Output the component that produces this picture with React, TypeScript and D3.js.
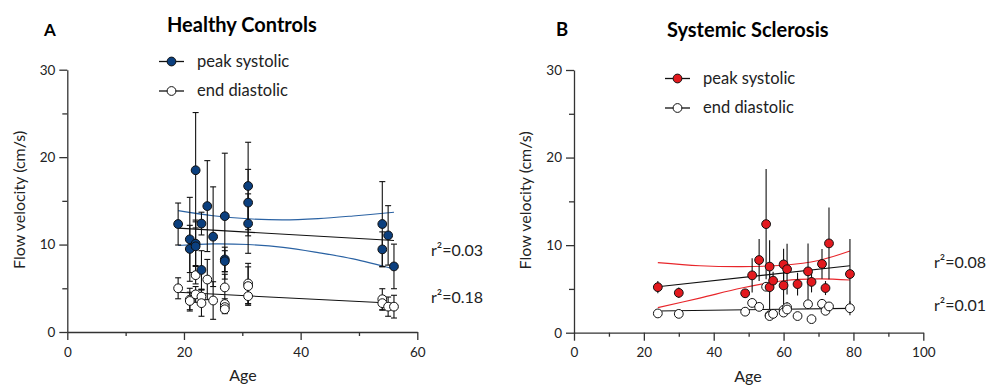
import React, { useEffect, useRef } from 'react';
import * as d3 from 'd3';

// Panel A – healthy controls
const hcSysAge = [19, 21, 21, 22, 22, 22, 23, 23, 24, 25, 27, 27, 27, 31, 31, 31, 54, 54, 55, 56];
const hcSys = [12.35, 10.6, 9.5, 18.5, 10.1, 9.8, 12.4, 7.1, 14.4, 10.9, 13.25, 8.3, 8.1, 16.7, 14.8, 12.4, 12.35, 9.45, 11.05, 7.5];
const hcSysSd = [2.4, 4.8, 2.7, 6.6, 2.5, 3.0, 1.3, 2.2, 5.2, 5.7, 7.2, 1.4, 1.2, 5.0, 3.8, 3.4, 4.85, 2.0, 3.4, 2.55];
const hcDiaAge = [19, 21, 21, 22, 22, 23, 23, 24, 25, 27, 27, 27, 27, 31, 31, 31, 54, 54, 55, 56];
const hcDia = [5.0, 3.7, 3.55, 6.5, 4.3, 4.05, 3.3, 6.0, 3.6, 5.1, 3.2, 2.85, 2.6, 5.55, 5.25, 4.1, 3.75, 3.3, 2.9, 2.9];
const hcDiaSd = [1.2, 1.3, 1.0, 1.0, 0.9, 0.8, 1.5, 2.3, 2.15, 1.5, 0.6, 0.6, 0.5, 2.3, 2.2, 0.9, 1.2, 0.8, 1.1, 1.3];
const hcFitAge = [19, 56];
const hcSysFit = [11.88, 10.47];
const hcDiaFit = [4.54, 3.28];
const hcBandAge = [19, 25, 31, 37, 43, 49, 56];
const hcBandHi = [13.88, 13.3, 12.95, 12.82, 12.97, 13.27, 13.69];
const hcBandLo = [9.9, 10.08, 10.0, 9.68, 9.08, 8.36, 7.2];
const hcR2 = ['r²=0.03', 'r²=0.18'];

// Panel B – systemic sclerosis
const ssSysAge = [24, 30, 49, 51, 53, 55, 56, 56, 57, 60, 60, 61, 64, 67, 68, 71, 72, 73, 79];
const ssSys = [5.2, 4.55, 4.5, 6.55, 8.3, 12.4, 7.55, 5.2, 5.95, 7.8, 5.4, 7.25, 5.55, 7.0, 5.8, 7.85, 5.1, 10.2, 6.7];
const ssSysSd = [0.7, 0.6, 0.5, 1.95, 2.4, 6.3, 3.0, 2.5, 1.0, 1.8, 3.0, 2.9, 1.3, 3.2, 1.2, 1.7, 0.8, 4.1, 4.0];
const ssDiaAge = [24, 30, 49, 51, 53, 55, 56, 56, 57, 60, 60, 61, 61, 64, 67, 68, 71, 72, 73, 79];
const ssDia = [2.2, 2.15, 2.4, 3.4, 2.95, 5.25, 2.0, 1.9, 2.15, 2.6, 2.3, 2.9, 2.65, 1.9, 3.25, 1.55, 3.3, 2.5, 3.0, 2.8];
const ssDiaSd = [0.3, 0.3, 0.4, 0.5, 0.4, 0.5, 0.4, 0.4, 0.3, 0.5, 0.4, 0.6, 0.4, 0.4, 0.5, 0.3, 0.4, 0.4, 0.5, 0.8];
const ssFitAge = [24, 79];
const ssSysFit = [5.25, 7.65];
const ssDiaFit = [2.48, 2.78];
const ssBandAge = [24, 36, 48, 60, 70, 79];
const ssBandHi = [8.0, 7.65, 7.55, 7.7, 8.25, 9.33];
const ssBandLo = [2.86, 3.95, 5.1, 5.94, 6.15, 6.02];
const ssR2 = ['r²=0.08', 'r²=0.01'];

const yTicks = [0, 10, 20, 30];
const yMinor = [5, 15, 25];
const legendLabels = ['peak systolic', 'end diastolic'];

const FONT = 'Lato, "Open Sans", sans-serif';

const panels = [
  {
    letter: 'A', title: 'Healthy Controls', colour: '#0b3f7e', band: '#2a62a3',
    xMax: 60, xTicks: [0, 20, 40, 60], xMinor: [10, 30, 50],
    left: 67.3, right: 417.3, bottom: 332, top: 69.7, caps: true,
    letterX: 44, letterY: 36, letterSize: 17, titleX: 167, titleY: 32,
    legX: 159, legY: [61.5, 91], yTitleX: 25, ageX: 243, ageY: 381,
    r2X: 431, r2Y: [256, 303],
    sysAge: hcSysAge, sys: hcSys, sysSd: hcSysSd,
    diaAge: hcDiaAge, dia: hcDia, diaSd: hcDiaSd,
    fitAge: hcFitAge, sysFit: hcSysFit, diaFit: hcDiaFit,
    bandAge: hcBandAge, bandHi: hcBandHi, bandLo: hcBandLo, r2: hcR2,
  },
  {
    letter: 'B', title: 'Systemic Sclerosis', colour: '#e3191e', band: '#e8262b',
    xMax: 100, xTicks: [0, 20, 40, 60, 80, 100], xMinor: [10, 30, 50, 70, 90],
    left: 574, right: 923.3, bottom: 332.7, top: 70, caps: false,
    letterX: 556, letterY: 36, letterSize: 18.5, titleX: 667, titleY: 36.5,
    legX: 665, legY: [78.5, 108], yTitleX: 531, ageX: 748, ageY: 382,
    r2X: 934, r2Y: [268, 311],
    sysAge: ssSysAge, sys: ssSys, sysSd: ssSysSd,
    diaAge: ssDiaAge, dia: ssDia, diaSd: ssDiaSd,
    fitAge: ssFitAge, sysFit: ssSysFit, diaFit: ssDiaFit,
    bandAge: ssBandAge, bandHi: ssBandHi, bandLo: ssBandLo, r2: ssR2,
  },
];

const R = 4.4;

const drawPanel = (svg, p) => {
  const g = svg.append('g');
  const x = d3.scaleLinear().domain([0, p.xMax]).range([p.left, p.right]);
  const y = d3.scaleLinear().domain([0, 30]).range([p.bottom, p.top]);

  const styleAxis = (sel) => {
    sel.selectAll('path, line').attr('stroke', '#333').attr('stroke-width', 1.3);
    sel.selectAll('text').attr('fill', '#222').style('font-family', FONT).style('font-size', '13.5px');
  };

  g.append('g')
    .attr('transform', `translate(${p.left},0)`)
    .call(d3.axisLeft(y).tickValues(yTicks).tickSize(8).tickSizeOuter(0).tickPadding(4))
    .call(styleAxis);
  g.append('g')
    .attr('transform', `translate(${p.left},0)`)
    .call(d3.axisLeft(y).tickValues(yMinor).tickSize(5).tickFormat(() => ''))
    .call(styleAxis)
    .select('.domain').remove();

  g.append('g')
    .attr('transform', `translate(0,${p.bottom})`)
    .call(d3.axisBottom(x).tickValues(p.xTicks).tickSize(8).tickSizeOuter(0).tickPadding(7))
    .call(styleAxis);
  g.append('g')
    .attr('transform', `translate(0,${p.bottom})`)
    .call(d3.axisBottom(x).tickValues(p.xMinor).tickSize(4).tickFormat(() => ''))
    .call(styleAxis)
    .select('.domain').remove();

  // fit lines and confidence band
  const straight = d3.line().x(d => x(d[0])).y(d => y(d[1]));
  const smooth = d3.line().x(d => x(d[0])).y(d => y(d[1])).curve(d3.curveCatmullRom);
  [p.sysFit, p.diaFit].forEach(vals => {
    g.append('path')
      .attr('d', straight(p.fitAge.map((a, i) => [a, vals[i]])))
      .attr('fill', 'none').attr('stroke', '#111').attr('stroke-width', 1.1);
  });
  [p.bandHi, p.bandLo].forEach(vals => {
    g.append('path')
      .attr('d', smooth(p.bandAge.map((a, i) => [a, vals[i]])))
      .attr('fill', 'none').attr('stroke', p.band).attr('stroke-width', 1.1);
  });

  // error bars
  const bars = (ages, means, sds) => {
    const eg = g.append('g').attr('stroke', '#111').attr('stroke-width', 1.1);
    ages.forEach((a, i) => {
      const lo = Math.max(0, means[i] - sds[i]);
      const hi = means[i] + sds[i];
      eg.append('line').attr('x1', x(a)).attr('x2', x(a)).attr('y1', y(lo)).attr('y2', y(hi));
      if (p.caps) {
        [lo, hi].forEach(v => {
          eg.append('line').attr('x1', x(a) - 3).attr('x2', x(a) + 3).attr('y1', y(v)).attr('y2', y(v));
        });
      }
    });
  };
  bars(p.diaAge, p.dia, p.diaSd);
  bars(p.sysAge, p.sys, p.sysSd);

  const dots = (ages, means, fill) => {
    g.append('g').selectAll('circle')
      .data(ages)
      .enter()
      .append('circle')
        .attr('cx', d => x(d))
        .attr('cy', (_, i) => y(means[i]))
        .attr('r', R)
        .attr('fill', fill)
        .attr('stroke', '#111')
        .attr('stroke-width', 1);
  };
  dots(p.diaAge, p.dia, '#fff');
  dots(p.sysAge, p.sys, p.colour);

  // legend
  legendLabels.forEach((label, i) => {
    const ly = p.legY[i];
    g.append('line').attr('x1', p.legX).attr('x2', p.legX + 25).attr('y1', ly).attr('y2', ly)
      .attr('stroke', '#111').attr('stroke-width', 1.3);
    g.append('circle').attr('cx', p.legX + 12.5).attr('cy', ly).attr('r', R)
      .attr('fill', i === 0 ? p.colour : '#fff').attr('stroke', '#111').attr('stroke-width', 1);
    g.append('text').attr('x', p.legX + 38).attr('y', ly + 5)
      .style('font-family', FONT).style('font-size', '16.5px').attr('fill', '#222')
      .text(label);
  });

  // r² labels
  p.r2.forEach((t, i) => {
    g.append('text').attr('x', p.r2X).attr('y', p.r2Y[i])
      .style('font-family', FONT).style('font-size', '16px').attr('fill', '#222')
      .text(t);
  });

  // titles
  g.append('text').attr('x', p.letterX).attr('y', p.letterY)
    .style('font-family', FONT).style('font-size', `${p.letterSize}px`).style('font-weight', 'bold')
    .text(p.letter);
  g.append('text').attr('x', p.titleX).attr('y', p.titleY)
    .style('font-family', FONT).style('font-size', '20px').style('font-weight', 'bold')
    .text(p.title);

  g.append('text')
    .attr('transform', `translate(${p.yTitleX},${(p.top + p.bottom) / 2 - 1}) rotate(-90)`)
    .attr('text-anchor', 'middle')
    .style('font-family', FONT).style('font-size', '16px').attr('fill', '#222')
    .text('Flow velocity (cm/s)');
  g.append('text').attr('x', p.ageX).attr('y', p.ageY).attr('text-anchor', 'middle')
    .style('font-family', FONT).style('font-size', '16px').attr('fill', '#222')
    .text('Age');
};

const App = () => {
  const ref = useRef(null);

  useEffect(() => {
    const svg = d3.select(ref.current);
    svg.selectAll('*').remove();
    panels.forEach(p => drawPanel(svg, p));
  }, []);

  return (
    <svg
      ref={ref}
      width={990}
      height={385}
      style={{ position: 'absolute', left: 0, top: 0, background: '#fff' }}
    />
  );
};

export default App;
